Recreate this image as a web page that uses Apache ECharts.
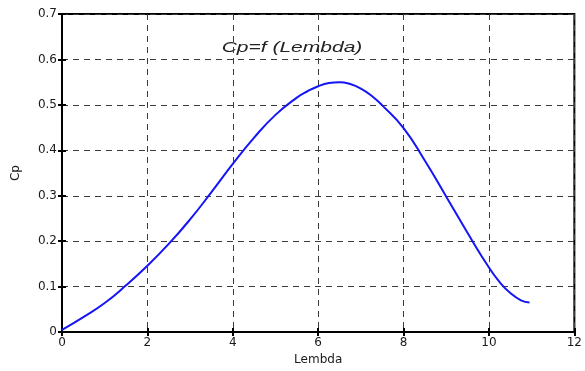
<!DOCTYPE html>
<html>
<head>
<meta charset="utf-8">
<script src="https://cdn.jsdelivr.net/npm/echarts@6/dist/echarts.min.js"></script>
<style>
	html, body { margin: 0; padding: 0; background: #fff; }
	#chart { width: 585px; height: 371px; }
</style>
</head>
<body>
<div id="chart"></div>
<script>
// Cp as a function of tip speed ratio
var lambdaData = [0, 0.5, 1, 1.5, 2, 2.5, 3, 3.5, 4, 4.5, 5, 5.5, 5.75, 6, 6.25, 6.5, 6.75, 7, 7.25, 7.5, 8, 8.5, 9, 9.5, 10, 10.25, 10.5, 10.75, 10.95];
var cpData = [0.005, 0.033, 0.064, 0.103, 0.146, 0.194, 0.248, 0.308, 0.37, 0.428, 0.478, 0.516, 0.530, 0.541, 0.548, 0.550, 0.546, 0.536, 0.520, 0.499, 0.449, 0.377, 0.298, 0.218, 0.142, 0.11, 0.086, 0.07, 0.065];
var xTicks = [0, 2, 4, 6, 8, 10, 12];
var yTicks = [0, 0.1, 0.2, 0.3, 0.4, 0.5, 0.6, 0.7];
var titleText = 'Cp=f (Lembda)';

var chart = echarts.init(document.getElementById('chart'));

var points = [];
for (var i = 0; i < lambdaData.length; i++) {
	points.push([lambdaData[i], cpData[i]]);
}

var font = 'DejaVu Sans, sans-serif';
var dash = {
	color: '#3a3a3a',
	width: 1,
	type: [6, 5]
};
var tick = { inside: true, length: 4, lineStyle: { color: '#000', width: 2 } };

var option = {
	animation: false,
	backgroundColor: '#fff',
	grid: {
		left: 62,
		right: 2,
		top: 14,
		bottom: 34,
		show: true,
		borderColor: '#000',
		borderWidth: 2,
		backgroundColor: 'transparent'
	},
	// the picture is stretched sideways, so the title text is too
	graphic: [{
		type: 'text',
		x: 292,
		y: 48,
		scaleX: 1.4,
		style: {
			text: titleText,
			fontFamily: 'Liberation Sans, Arial, sans-serif',
			fontStyle: 'italic',
			fontSize: 15,
			fill: '#222',
			align: 'center',
			verticalAlign: 'middle'
		}
	}],
	xAxis: [{
		type: 'value',
		min: xTicks[0],
		max: xTicks[xTicks.length - 1],
		interval: 2,
		name: 'Lembda',
		nameLocation: 'middle',
		nameGap: 21,
		nameTextStyle: { fontFamily: font, fontSize: 12, color: '#1a1a1a' },
		axisLine: { lineStyle: { color: '#000', width: 2 } },
		axisTick: tick,
		axisLabel: { fontFamily: font, fontSize: 12, color: '#1a1a1a', margin: 5 },
		splitLine: { show: true, lineStyle: dash }
	}, {
		type: 'value',
		position: 'top',
		min: xTicks[0],
		max: xTicks[xTicks.length - 1],
		interval: 2,
		axisLine: { show: false },
		axisTick: tick,
		axisLabel: { show: false },
		splitLine: { show: false }
	}],
	yAxis: [{
		type: 'value',
		min: yTicks[0],
		max: yTicks[yTicks.length - 1],
		interval: 0.1,
		name: 'Cp',
		nameLocation: 'middle',
		nameGap: 40,
		nameTextStyle: { fontFamily: font, fontSize: 12, color: '#1a1a1a' },
		axisLine: { lineStyle: { color: '#000', width: 2 } },
		axisTick: tick,
		axisLabel: { fontFamily: font, fontSize: 12, color: '#1a1a1a', margin: 5 },
		splitLine: { show: true, lineStyle: dash }
	}, {
		type: 'value',
		position: 'right',
		min: yTicks[0],
		max: yTicks[yTicks.length - 1],
		interval: 0.1,
		axisLine: { show: false },
		axisTick: tick,
		axisLabel: { show: false },
		splitLine: { show: false }
	}],
	series: [{
		type: 'line',
		data: points,
		smooth: true,
		showSymbol: false,
		lineStyle: { color: '#1515f5', width: 2 }
	}]
};

chart.setOption(option);
</script>
</body>
</html>
